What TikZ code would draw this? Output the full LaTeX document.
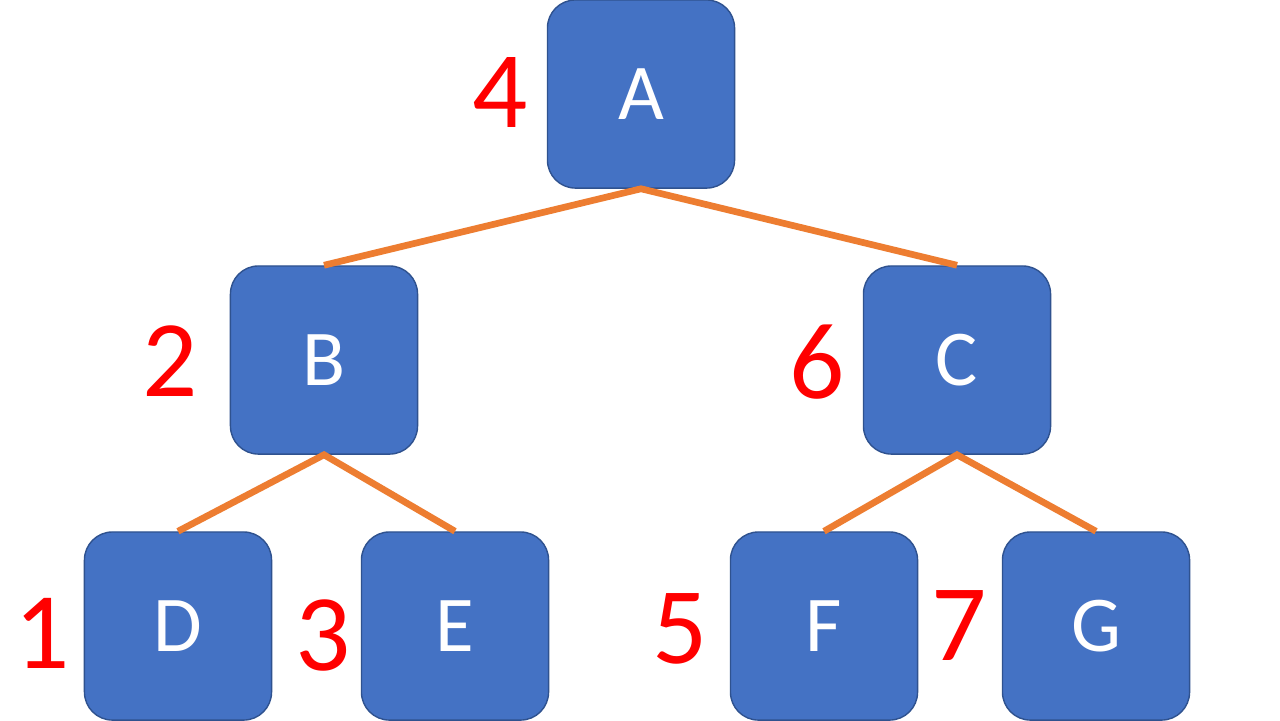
\documentclass[tikz,border=0pt]{standalone}
\usepackage{fontspec}
\setmainfont{Carlito}

\definecolor{nodeblue}{HTML}{4472C4}
\definecolor{nodeedge}{HTML}{2F528F}
\definecolor{linkorange}{HTML}{ED7D31}

\begin{document}
\begin{tikzpicture}[
  x=0.01cm, y=-0.01cm,
  vertex/.style={rectangle, rounded corners=0.28cm, draw=nodeedge, line width=0.4pt,
                 fill=nodeblue, minimum width=1.87cm, minimum height=1.88cm,
                 inner sep=0pt, text=white, font=\fontsize{22.5}{27}\selectfont},
  order/.style={inner sep=0pt, text=red, font=\fontsize{31}{37}\selectfont},
  link/.style={draw=linkorange, line width=1.9pt}
]

\path[fill=white, use as bounding box] (0,0) rectangle (1280,720);

%% ---- tree nodes ----
\node[vertex] (A) at (641, 94)  {A};
\node[vertex] (B) at (324, 360) {B};
\node[vertex] (C) at (957, 360) {C};
\node[vertex] (D) at (178, 626) {D};
\node[vertex] (E) at (455, 626) {E};
\node[vertex] (F) at (824, 626) {F};
\node[vertex] (G) at (1096, 626) {G};

%% ---- edges ----
\draw[link] (B.north) -- (A.south) -- (C.north);
\draw[link] (D.north) -- (B.south) -- (E.north);
\draw[link] (F.north) -- (C.south) -- (G.north);

%% ---- in-order numbers ----
\node[order] (n4) at (500, 92)  {4};
\node[order] (n2) at (170, 361) {2};
\node[order] (n6) at (817, 362) {6};
\node[order] (n1) at (42, 633)  {1};
\node[order] (n3) at (323, 635) {3};
\node[order] (n5) at (680, 629) {5};
\node[order] (n7) at (959, 625) {7};

\end{tikzpicture}
\end{document}
